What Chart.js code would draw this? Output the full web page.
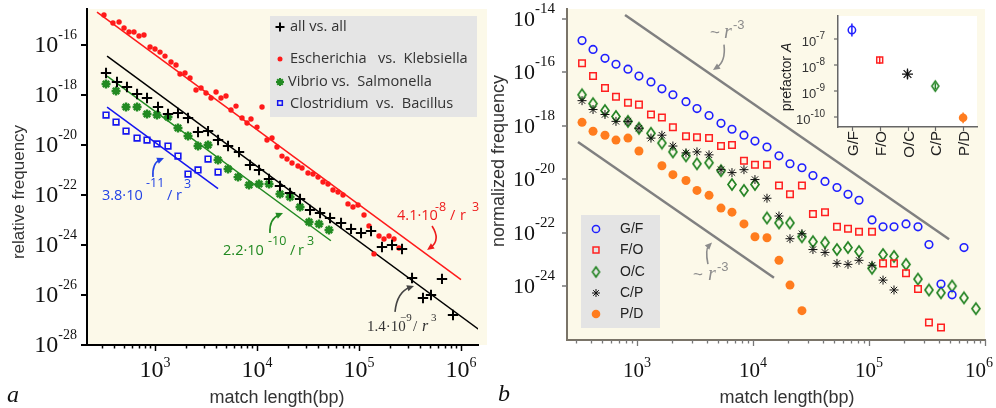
<!DOCTYPE html>
<html>
<head>
<meta charset="utf-8">
<script src="https://cdn.jsdelivr.net/npm/chart.js@4.4.1/dist/chart.umd.min.js"></script>
<style>
  body { margin: 0; background: #fff; }
  #wrap { position: relative; width: 996px; height: 408px; overflow: hidden; }
  canvas { position: absolute; }
</style>
</head>
<body>
<div id="wrap">
  <canvas id="chartA" width="490" height="408" style="left:0;top:0"></canvas>
  <canvas id="chartB" width="506" height="408" style="left:490px;top:0"></canvas>
  <canvas id="chartC" width="215" height="175" style="left:775px;top:5px"></canvas>
</div>
<script>
// ---------- panel a : match length (bp) vs relative frequency ----------
const lenEK = [316,387,444,497,556,622,697,780,894,1000,1120,1253,1435,1607,1758,1968,2204,2523,2826,3162,3542,3966,4436,4966,5559,6225,7129,7980,8730,10000,11200,12530,14030,15700,17580,19680,22040,25230,27620,31620,35420,39660,44370,49660,55590,62250,69700,78000,87300,97800,112000,125300,140300,157100,175800,196800,220400,246700];
const freqEK = [1.58e-15,7.6e-16,8.3e-16,4.8e-16,3.3e-16,3.3e-16,2.3e-16,2.5e-16,8.3e-17,6.9e-17,5.2e-17,3.6e-17,2.1e-17,1.58e-17,6.9e-18,7.6e-18,4.8e-18,1.58e-18,1.9e-18,1.2e-18,7.6e-19,1.32e-18,7.6e-19,9.1e-19,2.5e-19,3.6e-19,1.2e-19,7.6e-20,1.1e-19,5.2e-20,3.3e-19,1.58e-20,1.9e-20,8.3e-21,3.6e-21,2.75e-21,1.9e-21,1.45e-21,1.2e-21,7.6e-22,6.9e-22,5.2e-22,3.3e-22,2.75e-22,1.58e-22,1.32e-22,1.0e-22,4.4e-23,3.3e-23,4.0e-23,1.58e-23,5.8e-24,4.4e-25,2.3e-24,1.74e-24,2.3e-24,1.74e-24,7.6e-25];

const lenAll = [331,424,531,667,835,1070,1341,1680,2107,2641,3311,4150,5200,6662,8540,10470,13120,16800,21070,26410,33110,41500,52000,66670,83540,104700,131200,168000,210700,264100,331100,424000,508000,651000,835000];
const freqAll = [7.6e-18,3.3e-18,2.1e-18,1.1e-18,7.6e-19,3.3e-19,1.74e-19,1.9e-19,1.2e-19,3.3e-20,3.6e-20,1.58e-20,9.1e-21,5.2e-21,1.58e-21,1.0e-21,4.4e-22,2.3e-22,1.2e-22,6.9e-23,2.5e-23,1.9e-23,1.2e-23,7.6e-24,4.4e-24,3.0e-24,3.6e-24,8.3e-25,1.0e-24,6.9e-25,4.8e-26,7.6e-27,1.0e-26,4.4e-26,1.58e-27];

const lenVS = [331,415,520,667,835,1046,1341,1680,2107,2641,3311,4150,5200,6515,8350,10470,13120,16800,21070,26410,32360,40550,50800];
const freqVS = [2.75e-18,1.45e-18,3.3e-19,3.3e-19,1.74e-19,1.58e-19,1.32e-19,4.8e-20,2.3e-20,9.1e-21,1.0e-20,2.5e-21,1.1e-21,5.2e-22,2.5e-22,2.75e-22,2.75e-22,1.1e-22,8.3e-23,3.3e-23,8.3e-24,6.9e-24,4.0e-24];

const lenCB = [331,415,520,667,835,1046,1341,1680,2107,2641,3311,4150];
const freqCB = [1.58e-19,8.3e-20,3.6e-20,1.9e-20,1.58e-20,1.1e-20,9.1e-21,3.6e-21,6.9e-22,1.0e-21,2.75e-21,8.3e-22];

// fitted A / r^3 lines (end points)
const fitEKx = [270, 1.0e6],   fitEKy = [2.08e-15, 4.1e-26];
const fitAllx = [339, 1.5e6],  fitAlly = [3.59e-17, 4.15e-28];
const fitVSx = [339, 53000],   fitVSy = [5.65e-18, 1.48e-24];
const fitCBx = [339, 4150],    fitCBy = [3.3e-19, 1.8e-22];

const ticksA_x = [1e3, 1e4, 1e5, 1e6];
const ticksA_y = [-16, -18, -20, -22, -24, -26, -28];

// ---------- panel b : normalized frequency ----------
const lenB = [336,418,530,659,836,1040,1320,1640,2040,2645,3290,4180,5300,6590,8360,10400,13200,16750,20840,26420,32870,41760,52970,65920,82030,106200,132100,164300,208500,264500,328700,417500,520300,659000,835000];
const freqGF = [1.55e-15,7.2e-16,3.36e-16,2.02e-16,1.32e-16,7.3e-17,4.4e-17,2.43e-17,1.46e-17,8.05e-18,4.45e-18,2.45e-18,1.25e-18,7.5e-19,4.5e-19,2.71e-19,1.63e-19,7.6e-20,3.85e-20,2.74e-20,1.39e-20,8.4e-21,5.0e-21,2.78e-21,1.67e-21,3.06e-22,1.69e-22,1.69e-22,2.18e-22,1.69e-22,3.67e-23,1.24e-24,4.86e-25,2.85e-23];
const freqFO = [2.2e-16,7.3e-17,2.64e-17,1.23e-17,7.4e-18,6.25e-18,2.67e-18,2.07e-18,8.9e-19,4.14e-19,3.8e-19,3.5e-19,1.77e-19,1.93e-19,4.97e-20,3.54e-20,3.54e-20,5.96e-21,2.78e-21,5.96e-21,5.1e-22,6.0e-22,1.69e-22,1.43e-22,1.11e-22,1.11e-22,7.3e-24,7.3e-24,3.14e-24,8.1e-25,4.5e-26,2.96e-26];
const freqOC = [1.46e-17,6.8e-18,3.76e-18,2.26e-18,1.48e-18,8.2e-19,5.3e-19,2.29e-19,1.07e-19,7.6e-20,3.85e-20,4.2e-20,2.13e-20,6.5e-21,3.9e-21,6.5e-21,3.63e-22,2.38e-22,2.38e-22,7.2e-23,4.74e-23,4.36e-23,2.4e-23,2.85e-23,2.03e-23,4.8e-24,1.57e-23,1.33e-23,6.7e-24,1.89e-24,7.4e-25,5.8e-25,1.04e-24,3.77e-25,1.48e-25];
const freqCP = [8.8e-18,4.1e-18,2.67e-18,1.48e-18,1.48e-18,8.2e-19,3.5e-19,4.5e-19,1.77e-19,9.8e-20,1.07e-19,8.3e-20,2.32e-20,1.8e-20,2.32e-20,9.9e-21,1.98e-21,4.3e-22,6.1e-23,9.35e-23,2.4e-23,1.87e-23,7.3e-24,6.7e-24,9.5e-24,6.2e-24,1.73e-24,7.4e-25];
const lenPD = [336,418,530,659,836,1040,1640,2040,2645,3290,4180,5300,6590,8360,10400,13200,16750,20840,26420];
const freqPD = [1.36e-18,6.3e-19,4.5e-19,2.95e-19,3.5e-19,1.16e-19,3.25e-20,1.51e-20,9.1e-21,3.9e-21,2.55e-21,8.5e-22,6.0e-22,2.18e-22,7.2e-23,6.65e-23,9.5e-24,1.13e-24,1.25e-25];

// ~ r^-3 guide lines
const guideHix = [789, 490000], guideHiy = [1.4e-14, 5.85e-23];
const guideLox = [310, 15170],  guideLoy = [2.49e-19, 2.12e-24];

const ticksB_x = [1e3, 1e4, 1e5, 1e6];
const ticksB_y = [-14, -16, -18, -20, -22, -24];

// ---------- inset : prefactor A ----------
const catLabels = ['G/F', 'F/O', 'O/C', 'C/P', 'P/D'];
const prefA  = [2.2e-7, 1.55e-8, 4.5e-9, 1.55e-9, 9.5e-11];
const prefLo = [1.25e-7, 1.1e-8, 3.0e-9, 1.2e-9, 5.8e-11];
const prefHi = [3.9e-7, 2.1e-8, 6.5e-9, 2.0e-9, 1.5e-10];
const ticksC_y = [-7, -8, -9, -10];

const SERIF = '"Liberation Serif", "Times New Roman", serif';
const SANS = '"Liberation Sans", Arial, sans-serif';
const MYR = '"Open Sans", sans-serif';
const CREAM = '#fcf9e9';

function pts(xs, ys) {
    return ys.map((y, i) => ({ x: xs[i], y: y }));
}

function makeDiamond(w, h, color, lw) {
    const c = document.createElement('canvas');
    c.width = Math.ceil(w + lw * 2);
    c.height = Math.ceil(h + lw * 2);
    const g = c.getContext('2d');
    const cx = c.width / 2, cy = c.height / 2;
    g.strokeStyle = color;
    g.lineWidth = lw;
    g.beginPath();
    g.moveTo(cx, cy - h / 2);
    g.lineTo(cx + w / 2, cy);
    g.lineTo(cx, cy + h / 2);
    g.lineTo(cx - w / 2, cy);
    g.closePath();
    g.stroke();
    return c;
}

const diamondB = makeDiamond(8, 11, '#248424', 1.7);
const diamondLeg = makeDiamond(7, 10, '#248424', 1.6);
const diamondC = makeDiamond(7, 10, '#248424', 1.6);

function powLabel(ctx, x, y, exp, o) {
    ctx.fillStyle = o.color || '#111';
    ctx.textAlign = 'left';
    ctx.textBaseline = 'alphabetic';
    ctx.font = o.big + 'px ' + o.family;
    const w1 = ctx.measureText('10').width;
    ctx.font = o.small + 'px ' + o.family;
    const e = String(exp);
    const w2 = ctx.measureText(e).width;
    let x0 = o.align === 'right' ? x - w1 - w2 : x - (w1 + w2) / 2;
    if (o.maxRight && x0 + w1 + w2 > o.maxRight) x0 = o.maxRight - w1 - w2;
    ctx.font = o.big + 'px ' + o.family;
    ctx.fillText('10', x0, y);
    ctx.font = o.small + 'px ' + o.family;
    ctx.fillText(e, x0 + w1, y + o.supDy);
}

function arrow(ctx, p0, p1, p2, color, lw) {
    ctx.strokeStyle = color;
    ctx.fillStyle = color;
    ctx.lineWidth = lw;
    const ang = Math.atan2(p2[1] - p1[1], p2[0] - p1[0]);
    const L = 7, W = 3.2;
    const bx = p2[0] - L * 0.6 * Math.cos(ang), by = p2[1] - L * 0.6 * Math.sin(ang);
    ctx.beginPath();
    ctx.moveTo(p0[0], p0[1]);
    ctx.quadraticCurveTo(p1[0], p1[1], bx, by);
    ctx.stroke();
    ctx.beginPath();
    ctx.moveTo(p2[0], p2[1]);
    ctx.lineTo(p2[0] - L * Math.cos(ang) + W * Math.sin(ang), p2[1] - L * Math.sin(ang) - W * Math.cos(ang));
    ctx.lineTo(p2[0] - L * Math.cos(ang) - W * Math.sin(ang), p2[1] - L * Math.sin(ang) + W * Math.cos(ang));
    ctx.closePath();
    ctx.fill();
}

function toPx(chart, v) {
    return [chart.scales.x.getPixelForValue(v[0]), chart.scales.y.getPixelForValue(v[1])];
}

function drawNote(chart, n) {
    const ctx = chart.ctx;
    const p = toPx(chart, [n.x, n.y]);
    ctx.fillStyle = n.color;
    ctx.textAlign = 'left';
    ctx.textBaseline = 'alphabetic';
    n.parts.forEach(part => {
        const [t, dx, dy, size, style, fam] = part;
        ctx.font = (style || '') + ' ' + size + 'px ' + (fam || n.font);
        ctx.fillText(t, p[0] + dx, p[1] + dy);
    });
    if (n.arrow) {
        arrow(ctx, toPx(chart, n.arrow[0]), toPx(chart, n.arrow[1]), toPx(chart, n.arrow[2]), n.arrowColor || n.color, 1.6);
    }
}

function marker(ctx, style, radius, x, y, stroke, fill, lw) {
    ctx.save();
    ctx.strokeStyle = stroke;
    ctx.fillStyle = fill;
    ctx.lineWidth = lw;
    Chart.helpers.drawPoint(ctx, { pointStyle: style, radius: radius, rotation: 0, borderWidth: lw }, x, y);
    ctx.restore();
}

function xMinorTicks(ctx, sx, bottom, color, lw) {
    ctx.strokeStyle = color;
    ctx.lineWidth = lw;
    for (let n = 2; n <= 6; n++) {
        for (let k = 1; k <= 9; k++) {
            const v = k * Math.pow(10, n);
            if (v < sx.min || v > sx.max) continue;
            const px = Math.round(sx.getPixelForValue(v)) + 0.5;
            const len = k === 1 ? 6 : 3.5;
            ctx.beginPath();
            ctx.moveTo(px, bottom);
            ctx.lineTo(px, bottom + len);
            ctx.stroke();
        }
    }
}

const bgPlugin = {
    id: 'bg',
    beforeDraw(chart, args, opts) {
        const a = chart.chartArea;
        const ctx = chart.ctx;
        ctx.save();
        ctx.fillStyle = opts.color;
        ctx.fillRect(a.left, a.top, a.right - a.left + (opts.extra || 0), a.bottom - a.top);
        ctx.restore();
    }
};

const notesA = [
    { color: '#2142e6', font: MYR, x: 302, y: 6.3e-23,
      parts: [['3.8·10', 0, 0, 14.5], ['-11', 44, -13, 12.5], ['/', 65, 0, 14.5], ['r', 74, 0, 14.5], ['3', 82, -12, 12.5]],
      arrow: [[955, 5.25e-22], [935, 1.9e-21], [1225, 3.0e-21]] },
    { color: '#228a22', font: MYR, x: 4645, y: 4.0e-25,
      parts: [['2.2·10', 0, 0, 14.5], ['-10', 45, -10, 12.5], ['/', 67, 0, 14.5], ['r', 75, 0, 14.5], ['3', 84, -10, 12.5]],
      arrow: [[13400, 3.0e-24], [13120, 1.1e-23], [17990, 1.9e-23]] },
    { color: '#ee1c1c', font: MYR, x: 236000, y: 1.0e-23,
      parts: [['4.1·10', 0, 0, 14.5], ['-8', 38, -9, 12.5], ['/', 53, 0, 14.5], ['r', 63, 0, 14.5], ['3', 75, -9, 12.5]],
      arrow: [[520000, 5.75e-24], [637000, 1.58e-24], [465000, 6.3e-25]] },
    { color: '#333', font: SERIF, x: 119700, y: 3.6e-28, arrowColor: '#444',
      parts: [['1.4·10', 0, 0, 15], ['\u22129', 33, -10, 11], ['/', 46, 0, 15], ['r', 55, 0, 16, 'italic'], ['3', 64, -10, 11]],
      arrow: [[225400, 2.1e-27], [236000, 1.32e-26], [346000, 2.3e-26]] }
];

const decoA = {
    id: 'decoA',
    afterDraw(chart) {
        const ctx = chart.ctx;
        const a = chart.chartArea;
        const sx = chart.scales.x, sy = chart.scales.y;
        ctx.save();
        xMinorTicks(ctx, sx, a.bottom, '#000', 1.5);
        ticksA_x.forEach(v => {
            const e = Math.round(Math.log10(v));
            powLabel(ctx, sx.getPixelForValue(v), 377, e, { big: 24, small: 14, family: SERIF, align: 'center', supDy: -10 });
        });
        ctx.strokeStyle = '#000';
        ctx.lineWidth = 2;
        ticksA_y.forEach(e => {
            const py = Math.round(sy.getPixelForValue(Math.pow(10, e)));
            ctx.beginPath();
            ctx.moveTo(a.left - 6, py);
            ctx.lineTo(a.left, py);
            ctx.stroke();
            powLabel(ctx, 77, py + 7, '-' + Math.abs(e), { big: 24, small: 14, family: SERIF, align: 'right', supDy: -13 });
        });

        // legend
        ctx.fillStyle = '#e5e5e5';
        ctx.fillRect(270, 16, 207, 101);
        marker(ctx, 'cross', 4.5, 280, 27, '#000', '#000', 2);
        marker(ctx, 'circle', 2.5, 280, 59, '#ff1a1a', '#ff1a1a', 0);
        marker(ctx, 'star', 4, 280, 82, '#228a22', '#228a22', 2);
        marker(ctx, 'rect', 3.3, 280, 103, '#1515f0', 'rgba(0,0,0,0)', 1.5);
        ctx.fillStyle = '#333';
        ctx.font = '14.6px ' + MYR;
        ctx.textAlign = 'left';
        ctx.textBaseline = 'middle';
        ctx.fillText('all vs. all', 290, 27);
        ctx.fillText('Escherichia   vs.  Klebsiella', 290, 59);
        ctx.fillText('Vibrio vs.  Salmonella', 288, 82);
        ctx.fillText('Clostridium  vs.  Bacillus', 290, 104);

        notesA.forEach(n => drawNote(chart, n));

        // axis titles
        ctx.fillStyle = '#333';
        ctx.font = '17px ' + SANS;
        ctx.textAlign = 'center';
        ctx.textBaseline = 'middle';
        ctx.save();
        ctx.translate(19, 192);
        ctx.rotate(-Math.PI / 2);
        ctx.fillText('relative frequency', 0, 0);
        ctx.restore();
        ctx.font = '18px ' + SANS;
        ctx.textBaseline = 'alphabetic';
        ctx.fillText('match length(bp)', 277, 403);
        ctx.fillStyle = '#111';
        ctx.font = 'italic 24px ' + SERIF;
        ctx.textAlign = 'left';
        ctx.fillText('a', 7, 402);
        ctx.restore();
    }
};

const notesB = [
    { color: '#8c8c8c', font: SANS, x: 4256, y: 2.0e-15,
      parts: [['~', 0, 0, 17], ['r', 14, 0, 20, 'italic', SERIF], ['-3', 23, -9, 13]],
      arrow: [[5623, 1.1e-15], [5850, 2.6e-16], [4520, 1.22e-16]] },
    { color: '#8c8c8c', font: SANS, x: 3040, y: 1.74e-24,
      parts: [['~', 0, 0, 17], ['r', 15, 0, 20, 'italic', SERIF], ['-3', 24, -9, 13]],
      arrow: [[4090, 6.8e-24], [3855, 2.4e-23], [4436, 4.36e-23]] }
];

const decoB = {
    id: 'decoB',
    afterDraw(chart) {
        const ctx = chart.ctx;
        const a = chart.chartArea;
        const sx = chart.scales.x, sy = chart.scales.y;
        ctx.save();
        xMinorTicks(ctx, sx, a.bottom, '#777', 1.3);
        ticksB_x.forEach(v => {
            const e = Math.round(Math.log10(v));
            powLabel(ctx, sx.getPixelForValue(v), 377, e, { big: 21, small: 14, family: SERIF, align: 'center', supDy: -10, maxRight: 503 });
        });
        ctx.strokeStyle = '#777';
        ctx.lineWidth = 1.5;
        ticksB_y.forEach(e => {
            const py = Math.round(sy.getPixelForValue(Math.pow(10, e)));
            ctx.beginPath();
            ctx.moveTo(a.left - 5, py);
            ctx.lineTo(a.left, py);
            ctx.stroke();
            powLabel(ctx, 65, py + 7, '-' + Math.abs(e), { big: 22, small: 15, family: SERIF, align: 'right', supDy: -13 });
        });

        // legend
        ctx.fillStyle = '#e4e4e4';
        ctx.fillRect(91, 215, 79, 113);
        marker(ctx, 'circle', 3.6, 106, 229, '#1f1fff', 'rgba(0,0,0,0)', 1.5);
        marker(ctx, 'rect', 4.2, 106, 250, '#ff2020', 'rgba(0,0,0,0)', 1.5);
        marker(ctx, diamondLeg, 4, 106, 272, '#248424', '#248424', 1.5);
        marker(ctx, 'star', 4, 106, 293, '#111', '#111', 1);
        marker(ctx, 'circle', 4.3, 106, 314, '#ff7c1e', '#ff7c1e', 0);
        ctx.fillStyle = '#222';
        ctx.font = '14px ' + SANS;
        ctx.textAlign = 'left';
        ctx.textBaseline = 'middle';
        ['G/F', 'F/O', 'O/C', 'C/P', 'P/D'].forEach((t, i) => {
            ctx.fillText(t, 130, [229, 250, 272, 293, 314][i]);
        });

        notesB.forEach(n => drawNote(chart, n));

        ctx.fillStyle = '#333';
        ctx.font = '18px ' + SANS;
        ctx.textAlign = 'center';
        ctx.textBaseline = 'middle';
        ctx.save();
        ctx.translate(9, 161);
        ctx.rotate(-Math.PI / 2);
        ctx.fillText('normalized frequency', 0, 0);
        ctx.restore();
        ctx.textBaseline = 'alphabetic';
        ctx.fillText('match length(bp)', 297, 403);
        ctx.fillStyle = '#111';
        ctx.font = 'italic 24px ' + SERIF;
        ctx.textAlign = 'left';
        ctx.fillText('b', 8, 401);
        ctx.restore();
    }
};

const decoC = {
    id: 'decoC',
    beforeDatasetsDraw(chart) {
        const ctx = chart.ctx;
        const sx = chart.scales.x, sy = chart.scales.y;
        const cols = ['#1f1fff', '#ff2020', '#111', '#248424', '#ff7c1e'];
        ctx.save();
        ctx.lineWidth = 1.5;
        prefA.forEach((v, i) => {
            const px = sx.getPixelForValue(i);
            ctx.strokeStyle = cols[i];
            ctx.beginPath();
            ctx.moveTo(px, sy.getPixelForValue(prefLo[i]));
            ctx.lineTo(px, sy.getPixelForValue(prefHi[i]));
            ctx.stroke();
        });
        ctx.restore();
    },
    afterDraw(chart) {
        const ctx = chart.ctx;
        const a = chart.chartArea;
        const sx = chart.scales.x, sy = chart.scales.y;
        ctx.save();
        ctx.strokeStyle = '#666';
        ctx.lineWidth = 1.2;
        ticksC_y.forEach(e => {
            const py = Math.round(sy.getPixelForValue(Math.pow(10, e)));
            ctx.beginPath();
            ctx.moveTo(a.left - 4, py);
            ctx.lineTo(a.left, py);
            ctx.stroke();
            powLabel(ctx, 50, py + 7, '-' + Math.abs(e), { big: 13, small: 10, family: SANS, align: 'right', supDy: -7, color: '#333' });
        });
        catLabels.forEach((t, i) => {
            const px = Math.round(sx.getPixelForValue(i)) + 0.5;
            ctx.strokeStyle = '#666';
            ctx.beginPath();
            ctx.moveTo(px, a.bottom);
            ctx.lineTo(px, a.bottom + 4);
            ctx.stroke();
            ctx.save();
            ctx.translate(px, a.bottom + 4);
            ctx.rotate(-Math.PI / 2);
            ctx.fillStyle = '#222';
            ctx.font = '15px ' + SANS;
            ctx.textAlign = 'right';
            ctx.textBaseline = 'middle';
            ctx.fillText(t, 0, 1);
            ctx.restore();
        });
        // y title with italic A
        ctx.save();
        ctx.translate(12, 72);
        ctx.rotate(-Math.PI / 2);
        ctx.fillStyle = '#222';
        ctx.textBaseline = 'middle';
        ctx.textAlign = 'left';
        ctx.font = '14px ' + SANS;
        const w1 = ctx.measureText('prefactor ').width;
        ctx.font = 'italic 14px ' + SANS;
        const w2 = ctx.measureText('A').width;
        ctx.font = '14px ' + SANS;
        ctx.fillText('prefactor ', -(w1 + w2) / 2, 0);
        ctx.font = 'italic 14px ' + SANS;
        ctx.fillText('A', -(w1 + w2) / 2 + w1, 0);
        ctx.restore();
        ctx.restore();
    }
};

function logAxis(min, max, color, fit) {
    return {
        type: 'logarithmic', min: min, max: max,
        grid: { display: false },
        ticks: { display: false },
        border: { display: true, color: color, width: 2 },
        afterFit: fit
    };
}

const baseOpts = {
    responsive: false,
    animation: false,
    devicePixelRatio: 1,
    events: []
};

function scatterSet(xs, ys, style, r, stroke, fill, lw) {
    return {
        data: pts(xs, ys), showLine: false, pointStyle: style, pointRadius: r,
        pointBorderColor: stroke, pointBackgroundColor: fill, pointBorderWidth: lw, order: 1
    };
}

function lineSet(xs, ys, color, lw) {
    return {
        data: pts(xs, ys), showLine: true, pointRadius: 0, borderColor: color,
        borderWidth: lw, fill: false, order: 5
    };
}

new Chart(document.getElementById('chartA'), {
    type: 'scatter',
    data: {
        datasets: [
            scatterSet(lenAll, freqAll, 'cross', 5.2, '#000', '#000', 2),
            scatterSet(lenEK, freqEK, 'circle', 2.7, '#ff1a1a', '#ff1a1a', 0),
            scatterSet(lenVS, freqVS, 'star', 4.5, '#228a22', '#228a22', 2.4),
            scatterSet(lenCB, freqCB, 'rect', 4, '#1515f0', 'rgba(0,0,0,0)', 1.6),
            lineSet(fitEKx, fitEKy, '#ff1a1a', 1.5),
            lineSet(fitAllx, fitAlly, '#000', 1.5),
            lineSet(fitVSx, fitVSy, '#228a22', 1.5),
            lineSet(fitCBx, fitCBy, '#1515f0', 1.5)
        ]
    },
    options: Object.assign({}, baseOpts, {
        layout: { padding: { left: 0, top: 9, right: 12, bottom: 0 } },
        plugins: { legend: { display: false }, tooltip: { enabled: false }, bg: { color: CREAM, extra: 9 } },
        scales: {
            x: logAxis(215.4, 1.468e6, '#000', s => { s.height = 63; }),
            y: logAxis(1e-28, 2.75e-15, '#000', s => { s.width = 87; })
        }
    }),
    plugins: [bgPlugin, decoA]
});

new Chart(document.getElementById('chartB'), {
    type: 'scatter',
    data: {
        datasets: [
            scatterSet(lenB, freqGF, 'circle', 3.8, '#1f1fff', 'rgba(0,0,0,0)', 1.6),
            scatterSet(lenB, freqFO, 'rect', 4.6, '#ff2020', 'rgba(0,0,0,0)', 1.5),
            scatterSet(lenB, freqCP, 'star', 4.5, '#111', '#111', 1),
            scatterSet(lenB, freqOC, diamondB, 5, '#248424', 'rgba(0,0,0,0)', 1.5),
            scatterSet(lenPD, freqPD, 'circle', 4.5, '#ff7c1e', '#ff7c1e', 0),
            lineSet(guideHix, guideHiy, '#808080', 2.5),
            lineSet(guideLox, guideLoy, '#808080', 2.5)
        ]
    },
    options: Object.assign({}, baseOpts, {
        layout: { padding: { left: 0, top: 9, right: 11, bottom: 0 } },
        plugins: { legend: { display: false }, tooltip: { enabled: false }, bg: { color: CREAM, extra: 0 } },
        scales: {
            x: logAxis(249.3, 1e6, '#7a7468', s => { s.height = 68; }),
            y: logAxis(1.45e-26, 2.34e-14, '#7a7468', s => { s.width = 77; })
        }
    }),
    plugins: [bgPlugin, decoB]
});

new Chart(document.getElementById('chartC'), {
    type: 'line',
    data: {
        labels: catLabels,
        datasets: [{
            data: prefA,
            showLine: false,
            pointStyle: ['circle', 'rect', 'star', diamondC, 'circle'],
            pointRadius: [3.7, 4.2, 5.5, 5, 4.3],
            pointBorderColor: ['#1f1fff', '#ff2020', '#111', '#248424', '#ff7c1e'],
            pointBackgroundColor: ['rgba(0,0,0,0)', 'rgba(0,0,0,0)', '#111', 'rgba(0,0,0,0)', '#ff7c1e'],
            pointBorderWidth: [1.5, 1.5, 1.2, 1.5, 0]
        }]
    },
    options: Object.assign({}, baseOpts, {
        layout: { padding: { left: 0, top: 11, right: 13, bottom: 0 } },
        plugins: { legend: { display: false }, tooltip: { enabled: false }, bg: { color: '#fff', extra: 0 } },
        scales: {
            x: {
                type: 'category', offset: true,
                grid: { display: false }, ticks: { display: false },
                border: { display: true, color: '#666', width: 1.5 },
                afterFit: s => { s.height = 53; }
            },
            y: {
                type: 'logarithmic', min: 4.17e-11, max: 7.6e-7,
                grid: { display: false }, ticks: { display: false },
                border: { display: true, color: '#666', width: 1.5 },
                afterFit: s => { s.width = 63; }
            }
        }
    }),
    plugins: [bgPlugin, decoC]
});
</script>
</body>
</html>
